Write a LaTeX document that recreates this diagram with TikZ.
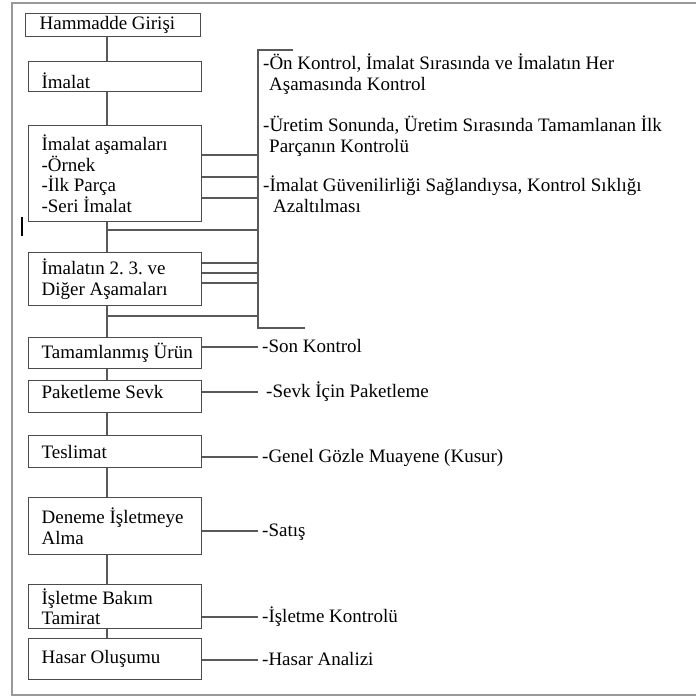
\documentclass[tikz,border=0pt]{standalone}
\usepackage{fontspec}
\setmainfont{Liberation Serif}
\usetikzlibrary{positioning,calc}

\begin{document}
\begin{tikzpicture}[x=1pt, y=-1pt,
    stage/.style={draw=black!70, line width=1.2pt, anchor=north west, minimum width=173pt,
        text width=161pt, inner xsep=6pt, inner ysep=3pt, align=left,
        execute at begin node={\frenchspacing\spaceskip=.25em\relax\leftskip=7pt\rightskip=0pt plus 1fil\relax},
        font=\fontsize{19}{20.5}\selectfont},
    link/.style={draw=black!65, line width=1.2pt},
    frame/.style={draw=black!40, line width=2pt},
    check/.style={anchor=west, inner xsep=4pt, text height=13pt, text depth=3pt, font=\fontsize{19}{20.5}\selectfont},
    checklist/.style={anchor=base west, inner sep=0pt, align=left, font=\fontsize{19}{21}\selectfont},
]
\useasboundingbox (0,0) rectangle (696,697);

% frame
\draw[frame] (720,3) -- (12,3) -- (12,695) -- (720,695);
\draw[line width=2.5pt] (22,217) -- (22,236);

% stages
\node[stage, minimum width=175pt, minimum height=21pt] (hammadde) at (25,13) {Hammadde Girişi};
\node[stage, minimum height=30pt, text height=24pt, text depth=0pt] (imalat) at (28,61) {İmalat};
\node[stage, minimum height=96pt] (asama) at (28,125) {İmalat aşamaları\\-Örnek\\-İlk Parça\\-Seri İmalat};
\node[stage, minimum height=53pt] (diger) at (28,252) {İmalatın 2. 3. ve\\Diğer Aşamaları};
\node[stage, minimum height=31pt] (urun) at (28,337) {Tamamlanmış Ürün};
\node[stage, minimum height=32pt, text height=13pt, text depth=9pt] (paket) at (28,380) {Paketleme Sevk};
\node[stage, minimum height=32pt] (teslim) at (28,435) {Teslimat};
\node[stage, minimum height=57pt] (deneme) at (28,497) {Deneme İşletmeye\\Alma};
\node[stage, minimum height=44pt] (bakim) at (28,584) {İşletme Bakım\\Tamirat};
\node[stage, minimum height=41pt] (hasar) at (28,638) {Hasar Oluşumu};

% spine
\coordinate (spine) at (107,0);
\foreach \a/\b in {hammadde/imalat, imalat/asama, asama/diger, diger/urun, urun/paket,
                   paket/teslim, teslim/deneme, deneme/bakim, bakim/hasar}
  \draw[link] (\a.south -| spine) -- (\b.north -| spine);

% control bracket
\coordinate (bustop) at (258,50);
\coordinate (busbot) at (258,328);
\coordinate (tap1) at (107,230);
\coordinate (tap2) at (107,316);
\draw[link] ($(bustop)+(35,0)$) -- (bustop) -- (busbot) -- ++(47,0);
\foreach \y in {155,177,198}
  \draw[link] (asama.east |- 0,\y) -- (bustop |- 0,\y);
\foreach \y in {263,273,283}
  \draw[link] (diger.east |- 0,\y) -- (bustop |- 0,\y);
\draw[link] (tap1) -- (tap1 -| bustop);
\draw[link] (tap2) -- (tap2 -| bustop);

% base = last line here
\node[checklist] (ctrl1) at (263,90) {-Ön Kontrol, İmalat Sırasında ve İmalatın Her\\\hspace*{6pt}Aşamasında Kontrol};
\node[checklist] (ctrl2) at (263,152) {-Üretim Sonunda, Üretim Sırasında Tamamlanan İlk\\\hspace*{6pt}Parçanın Kontrolü};
\node[checklist] (ctrl3) at (263,212) {-İmalat Güvenilirliği Sağlandıysa, Kontrol Sıklığı\\\hspace*{10pt}Azaltılması};

% checks
\node[check] (son) at (258,347) {-Son Kontrol};
\node[check] (sevk) at (262,392) {-Sevk İçin Paketleme};
\node[check] (genel) at (258,457) {-Genel Gözle Muayene (Kusur)};
\node[check] (satis) at (258,531) {-Satış};
\node[check] (isletme) at (258,617) {-İşletme Kontrolü};
\node[check] (analiz) at (258,660) {-Hasar Analizi};

\draw[link] (son.west -| urun.east) -- (son.west);
\draw[link] (sevk.west -| paket.east) -- ($(sevk.west)+(-4,0)$);
\draw[link] (genel.west -| teslim.east) -- (genel.west);
\draw[link] (satis.west -| deneme.east) -- (satis.west);
\draw[link] (isletme.west -| bakim.east) -- (isletme.west);
\draw[link] (analiz.west -| hasar.east) -- (analiz.west);

\end{tikzpicture}
\end{document}
